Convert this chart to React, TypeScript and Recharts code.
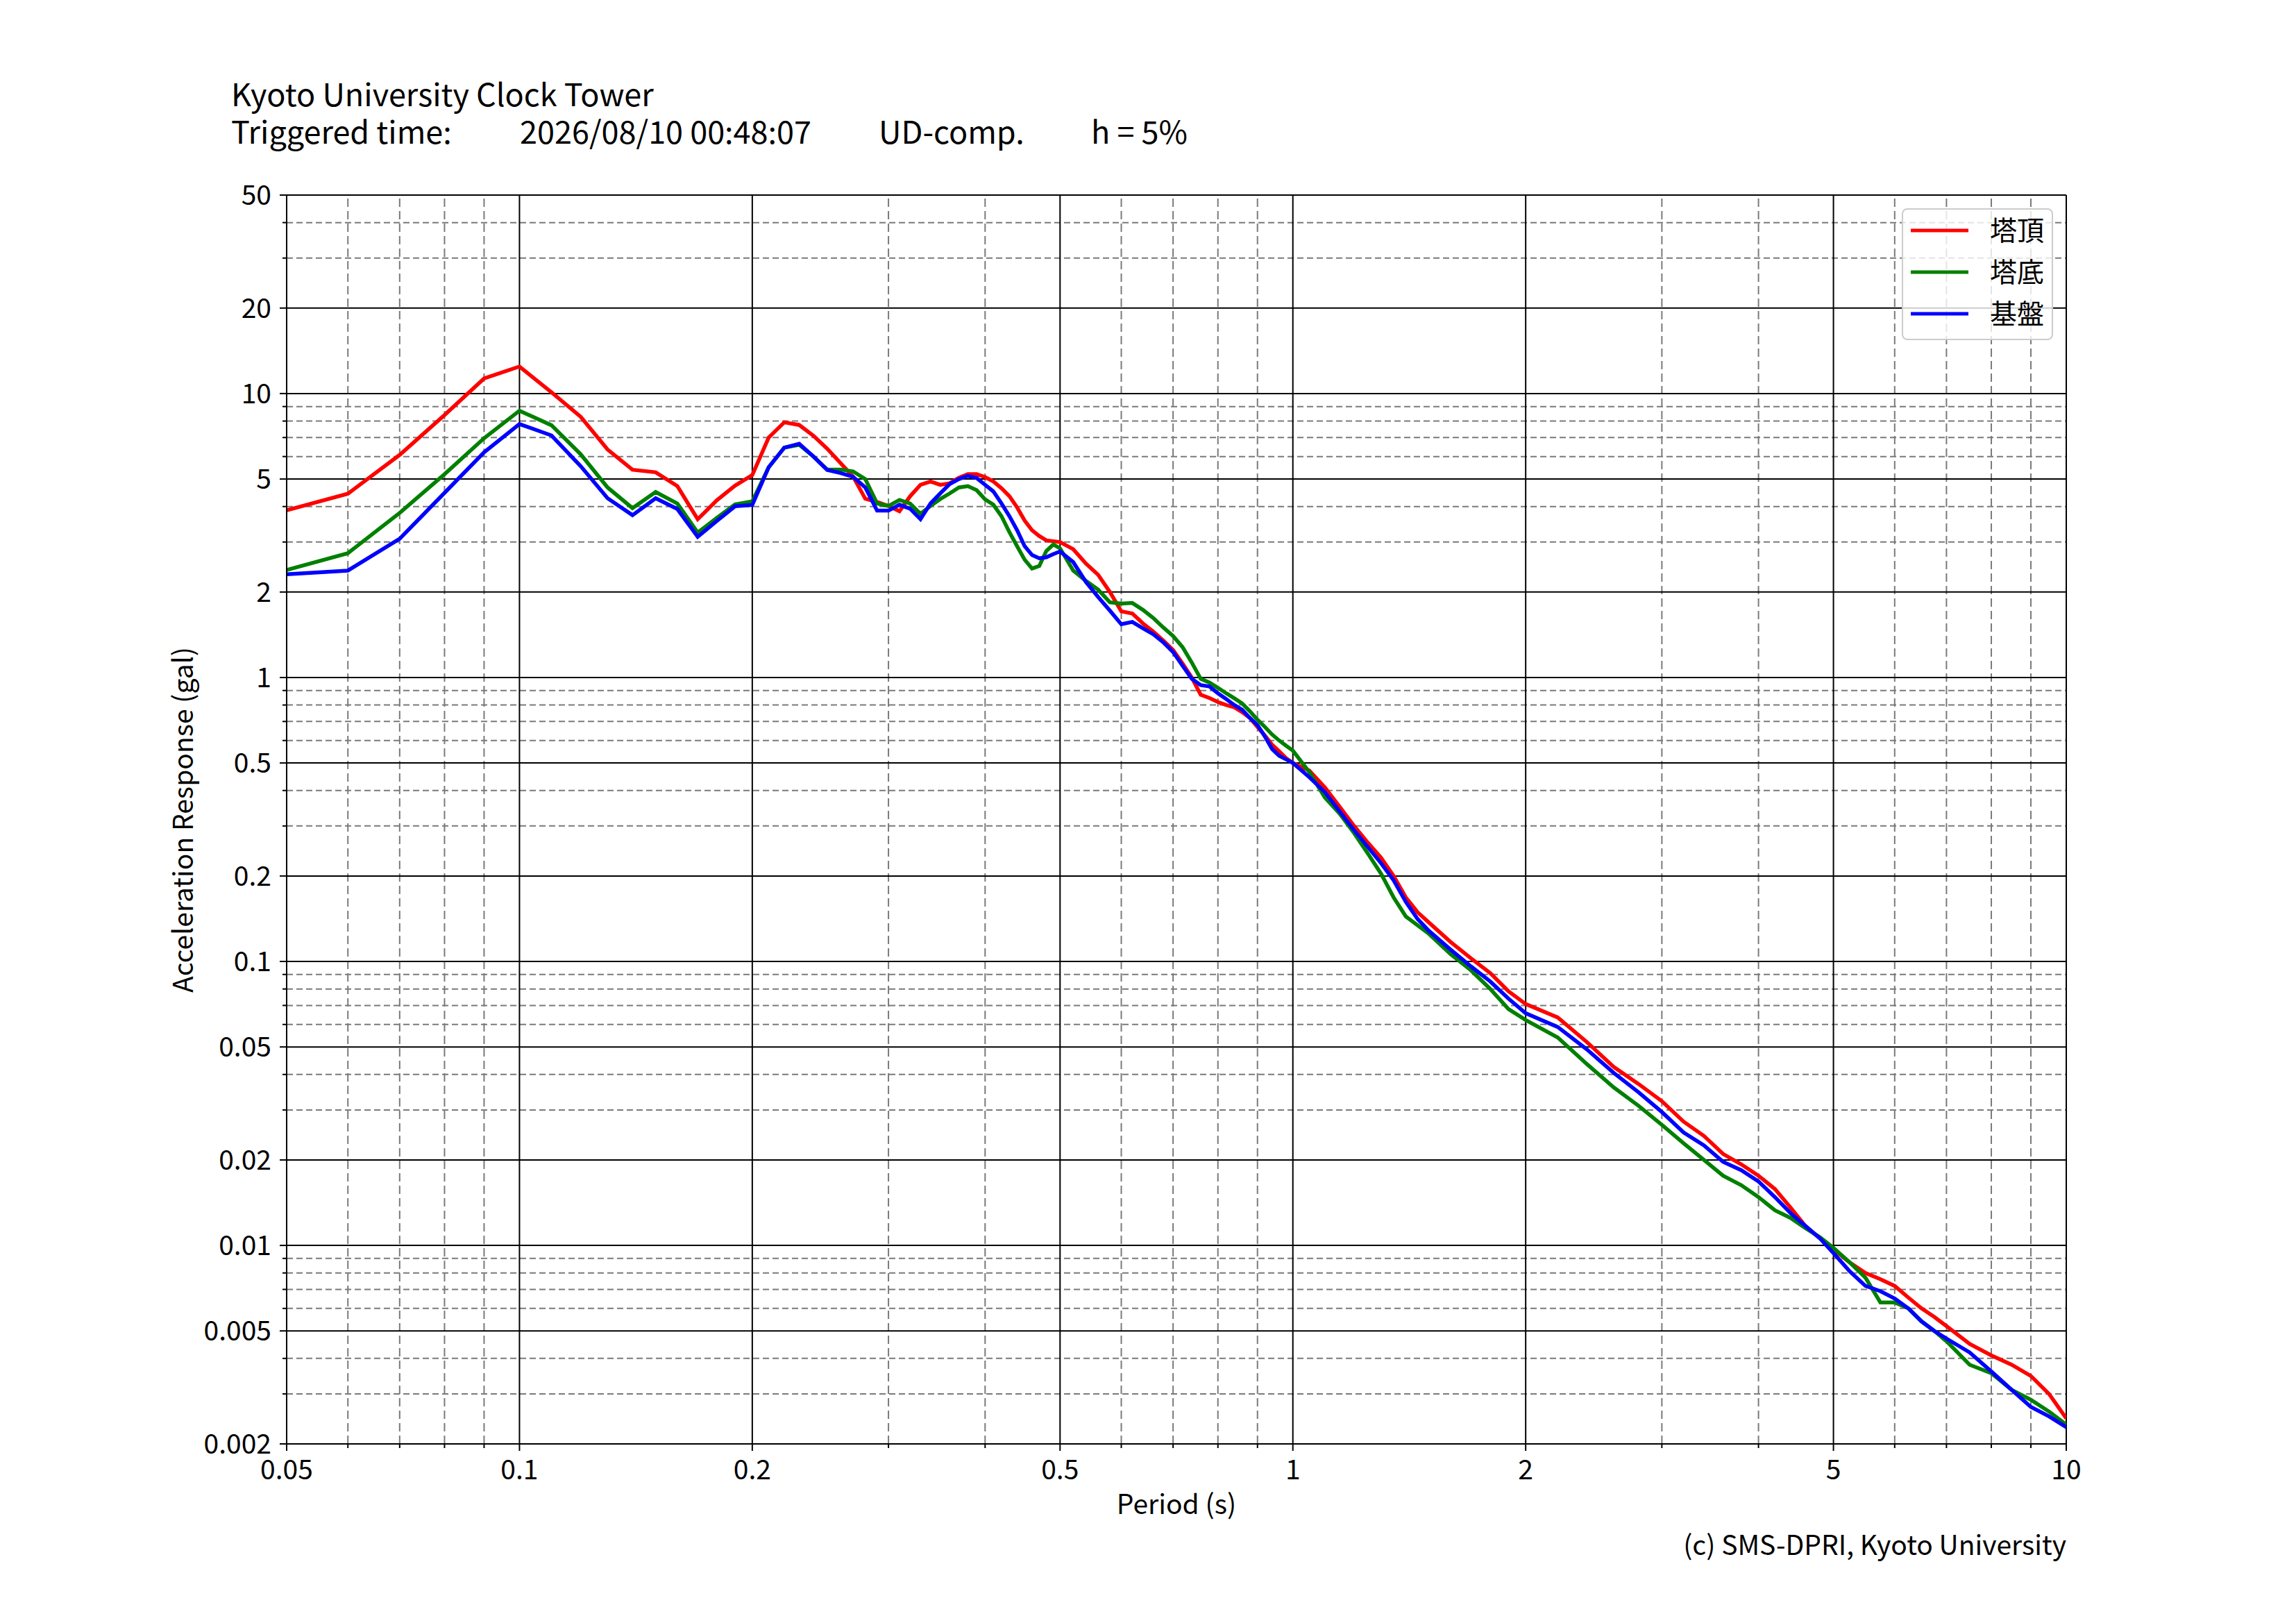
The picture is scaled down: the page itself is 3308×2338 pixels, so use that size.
import React from "react";
import { LineChart, Line, XAxis, YAxis, ReferenceLine, Legend } from "recharts";

// periods (s) shared by the three records
const periods = [
  0.05, 0.06, 0.07, 0.08, 0.09, 0.1, 0.11, 0.12, 0.13, 0.14, 0.15, 0.16, 0.17, 0.18, 0.19, 0.2,
  0.21, 0.22, 0.23, 0.24, 0.25, 0.26, 0.27, 0.28, 0.29, 0.3,
  0.31, 0.32, 0.33, 0.34, 0.35, 0.36, 0.37, 0.38, 0.39, 0.4,
  0.41, 0.42, 0.43, 0.44, 0.45, 0.46, 0.47, 0.48, 0.49, 0.5,
  0.52, 0.54, 0.56, 0.58, 0.6, 0.62, 0.64, 0.66, 0.68, 0.7,
  0.72, 0.74, 0.76, 0.78, 0.8, 0.82, 0.84, 0.86, 0.88, 0.9,
  0.92, 0.94, 0.96, 0.98, 1.0,
  1.05, 1.1, 1.15, 1.2, 1.25, 1.3, 1.35, 1.4, 1.45, 1.5,
  1.6, 1.7, 1.8, 1.9, 2.0,
  2.2, 2.4, 2.6, 2.8, 3.0, 3.2, 3.4, 3.6, 3.8, 4.0,
  4.2, 4.4, 4.6, 4.8, 5.0,
  5.25, 5.5, 5.75, 6.0, 6.25, 6.5, 6.75, 7.0, 7.5, 8.0,
  8.5, 9.0, 9.5, 10,
];

// 塔頂 (top of tower)
const towerTop = [
  3.88, 4.44, 6.08, 8.4, 11.3, 12.45, 10.1, 8.28, 6.35, 5.39, 5.28, 4.72, 3.61, 4.21, 4.74, 5.16,
  7.0, 7.92, 7.75, 7.1, 6.39, 5.7, 5.1, 4.26, 4.15, 4.02,
  3.85, 4.35, 4.77, 4.9, 4.77, 4.83, 5.05, 5.2, 5.2, 5.08,
  4.9, 4.64, 4.35, 3.97, 3.57, 3.3, 3.15, 3.04, 3.02, 3.0,
  2.83, 2.52, 2.3, 2.0, 1.71, 1.68, 1.55, 1.45, 1.35, 1.25,
  1.12, 1.0, 0.87, 0.847, 0.82, 0.8, 0.785, 0.755, 0.72, 0.67,
  0.625, 0.58, 0.55, 0.52, 0.5,
  0.47, 0.41, 0.35, 0.3, 0.262, 0.232, 0.2, 0.168, 0.149, 0.137,
  0.117, 0.1025, 0.091, 0.0785, 0.0708,
  0.0635, 0.052, 0.0425, 0.037, 0.0322, 0.0273, 0.0243, 0.021, 0.0193, 0.0176,
  0.0158, 0.0136, 0.0117, 0.0106, 0.0097,
  0.0087, 0.008, 0.0076, 0.0072, 0.00655, 0.006, 0.0056, 0.0052, 0.0045, 0.0041,
  0.0038, 0.00347, 0.003, 0.00246,
];

// 塔底 (base of tower)
const towerBase = [
  2.39, 2.74, 3.8, 5.2, 6.96, 8.7, 7.73, 6.11, 4.67, 3.95, 4.5, 4.1, 3.24, 3.65, 4.07, 4.17,
  5.5, 6.45, 6.6, 6.0, 5.4, 5.4, 5.32, 5.0, 4.1, 4.02,
  4.22, 4.1, 3.77, 4.02, 4.25, 4.45, 4.67, 4.72, 4.57, 4.24,
  4.06, 3.7, 3.25, 2.9, 2.6, 2.42, 2.47, 2.79, 2.94, 2.85,
  2.38, 2.19, 2.04, 1.84, 1.82, 1.83, 1.73, 1.62, 1.5, 1.4,
  1.28, 1.13, 0.99, 0.96, 0.92, 0.88, 0.845, 0.81, 0.76, 0.71,
  0.67, 0.63, 0.6, 0.575, 0.553,
  0.465, 0.378, 0.331, 0.283, 0.24, 0.204, 0.168, 0.144, 0.134, 0.125,
  0.106, 0.093, 0.08, 0.068, 0.0622,
  0.054, 0.0435, 0.036, 0.031, 0.0266, 0.0229, 0.02, 0.0176, 0.0163, 0.0148,
  0.0133, 0.0125, 0.0115, 0.0107, 0.0098,
  0.0087, 0.0077, 0.0063, 0.0063, 0.006, 0.0054, 0.005, 0.0046, 0.0038, 0.00355,
  0.0031, 0.00286, 0.0026, 0.00234,
];

// 基盤 (ground)
const bedrock = [
  2.31, 2.38, 3.08, 4.47, 6.21, 7.81, 7.12, 5.55, 4.28, 3.73, 4.28, 3.92, 3.13, 3.56, 4.01, 4.05,
  5.5, 6.45, 6.65, 6.0, 5.38, 5.25, 5.09, 4.67, 3.87, 3.87,
  4.06, 3.93, 3.61, 4.1, 4.45, 4.8, 5.0, 5.13, 5.04, 4.77,
  4.52, 4.1, 3.7, 3.3, 2.9, 2.7, 2.63, 2.65, 2.72, 2.78,
  2.55, 2.17, 1.92, 1.72, 1.54, 1.57, 1.49, 1.42, 1.33, 1.23,
  1.1, 0.99, 0.94, 0.93, 0.88, 0.84, 0.8, 0.77, 0.72, 0.68,
  0.62, 0.56, 0.53, 0.515, 0.5,
  0.446, 0.395, 0.337, 0.29, 0.253, 0.222, 0.193, 0.162, 0.141, 0.128,
  0.11, 0.096, 0.085, 0.074, 0.0657,
  0.0588, 0.049, 0.0405, 0.0346, 0.0295, 0.025, 0.0225, 0.0197, 0.0184, 0.0168,
  0.0148, 0.013, 0.0117, 0.0106, 0.0094,
  0.0081, 0.0072, 0.0069, 0.0065, 0.006, 0.0054, 0.005, 0.0047, 0.0042, 0.0036,
  0.0031, 0.0027, 0.0025, 0.00229,
];

const seriesKeys = ["top", "base", "rock"];
const seriesNames = ["塔頂", "塔底", "基盤"];
const seriesColors = ["#ff0000", "#008000", "#0000ff"];

const xMajorTicks = [0.05, 0.1, 0.2, 0.5, 1, 2, 5, 10];
const xMinorTicks = [0.06, 0.07, 0.08, 0.09, 0.3, 0.4, 0.6, 0.7, 0.8, 0.9, 3, 4, 6, 7, 8, 9];
const yMajorTicks = [0.002, 0.005, 0.01, 0.02, 0.05, 0.1, 0.2, 0.5, 1, 2, 5, 10, 20, 50];
const yMinorTicks = [
  0.003, 0.004, 0.006, 0.007, 0.008, 0.009, 0.03, 0.04, 0.06, 0.07, 0.08, 0.09,
  0.3, 0.4, 0.6, 0.7, 0.8, 0.9, 3, 4, 6, 7, 8, 9, 30, 40,
];

const W = 3308;
const H = 2338;
const FONT = '"Noto Sans CJK JP", "Noto Sans", sans-serif';
const TICK_SIZE = 10;
const X_TICK_MARGIN = 13;
const Y_TICK_MARGIN = 12;

const data = periods.map((p, i) => ({
  period: p,
  top: towerTop[i],
  base: towerBase[i],
  rock: bedrock[i],
}));

function XTick(props: any) {
  const { x, y, payload } = props;
  const v = payload.value;
  const major = xMajorTicks.includes(v);
  const axisY = y - TICK_SIZE - X_TICK_MARGIN;
  return (
    <g>
      <line x1={x} x2={x} y1={axisY} y2={axisY + (major ? 10 : 6)} stroke="#000" strokeWidth={2} />
      {major && (
        <text x={x} y={y} dy="0.71em" textAnchor="middle" fontSize={39} fill="#000" fontFamily={FONT}>
          {String(v)}
        </text>
      )}
    </g>
  );
}

function YTick(props: any) {
  const { x, y, payload } = props;
  const v = payload.value;
  const major = yMajorTicks.includes(v);
  const axisX = x + TICK_SIZE + Y_TICK_MARGIN;
  return (
    <g>
      <line x1={axisX} x2={axisX - (major ? 10 : 6)} y1={y} y2={y} stroke="#000" strokeWidth={2} />
      {major && (
        <text x={x} y={y} dy="0.355em" textAnchor="end" fontSize={39} fill="#000" fontFamily={FONT}>
          {String(v)}
        </text>
      )}
    </g>
  );
}

function renderLegend() {
  return (
    <svg width={218} height={190} style={{ display: "block" }}>
      <rect x={1} y={1} width={216} height={188} rx={7} fill="#fff" fillOpacity={0.8} stroke="#cccccc" strokeWidth={2} />
      {seriesNames.map((n, i) => (
        <g key={n}>
          <line x1={13} x2={96} y1={32 + 60 * i} y2={32 + 60 * i} stroke={seriesColors[i]} strokeWidth={5} />
          <text x={127} y={32 + 60 * i} dy="0.36em" fontSize={39} fill="#000" fontFamily={FONT}>
            {n}
          </text>
        </g>
      ))}
    </svg>
  );
}

export default function App() {
  return (
    <div style={{ position: "absolute", left: 0, top: 0, width: W, height: H, background: "#fff", fontFamily: FONT }}>
      <LineChart
        width={W}
        height={H}
        data={data}
        margin={{ top: 281, right: 331, bottom: 258 - 80, left: 413 - 100 }}
      >
        <XAxis
          dataKey="period"
          type="number"
          scale="log"
          domain={[0.05, 10]}
          allowDataOverflow
          ticks={[...xMajorTicks, ...xMinorTicks]}
          interval={0}
          height={80}
          tickSize={TICK_SIZE}
          tickMargin={X_TICK_MARGIN}
          tickLine={false}
          axisLine={{ stroke: "#000", strokeWidth: 2 }}
          tick={<XTick />}
        />
        <YAxis
          type="number"
          scale="log"
          domain={[0.002, 50]}
          allowDataOverflow
          ticks={[...yMajorTicks, ...yMinorTicks]}
          interval={0}
          width={100}
          tickSize={TICK_SIZE}
          tickMargin={Y_TICK_MARGIN}
          tickLine={false}
          axisLine={{ stroke: "#000", strokeWidth: 2 }}
          tick={<YTick />}
        />
        {yMinorTicks.map((v) => (
          <ReferenceLine key={"ym" + v} y={v} stroke="#7a7a7a" strokeWidth={2} strokeDasharray="9 5" />
        ))}
        {xMinorTicks.map((v) => (
          <ReferenceLine key={"xm" + v} x={v} stroke="#7a7a7a" strokeWidth={2} strokeDasharray="12 6" />
        ))}
        {yMajorTicks.map((v) => (
          <ReferenceLine key={"yM" + v} y={v} stroke="#000" strokeWidth={2} />
        ))}
        {xMajorTicks.map((v) => (
          <ReferenceLine key={"xM" + v} x={v} stroke="#000" strokeWidth={2} />
        ))}
        {seriesKeys.map((k, i) => (
          <Line
            key={k}
            type="linear"
            dataKey={k}
            name={seriesNames[i]}
            stroke={seriesColors[i]}
            strokeWidth={5.5}
            dot={false}
            isAnimationActive={false}
          />
        ))}
        <Legend
          layout="vertical"
          align="center"
          verticalAlign="middle"
          wrapperStyle={{ left: 2740, top: 300, width: 218, height: 190 }}
          content={renderLegend}
        />
      </LineChart>
      <svg
        width={W}
        height={H}
        style={{ position: "absolute", left: 0, top: 0, pointerEvents: "none" }}
        fontFamily={FONT}
        fill="#000"
      >
        <text fontSize={45}>
          <tspan x={333} y={153}>Kyoto University Clock Tower</tspan>
          <tspan x={333} y={207}>Triggered time:</tspan>
          <tspan x={749} y={207}>2026/08/10 00:48:07</tspan>
          <tspan x={1266} y={207}>UD-comp.</tspan>
          <tspan x={1572} y={207}>h = 5%</tspan>
        </text>
        <text x={1695} y={2181} fontSize={39} textAnchor="middle">Period (s)</text>
        <text
          x={264}
          y={1181}
          fontSize={39}
          textAnchor="middle"
          dy="0.36em"
          transform="rotate(-90 264 1181)"
        >
          Acceleration Response (gal)
        </text>
        <text x={2977} y={2240} fontSize={39} textAnchor="end">(c) SMS-DPRI, Kyoto University</text>
      </svg>
    </div>
  );
}
